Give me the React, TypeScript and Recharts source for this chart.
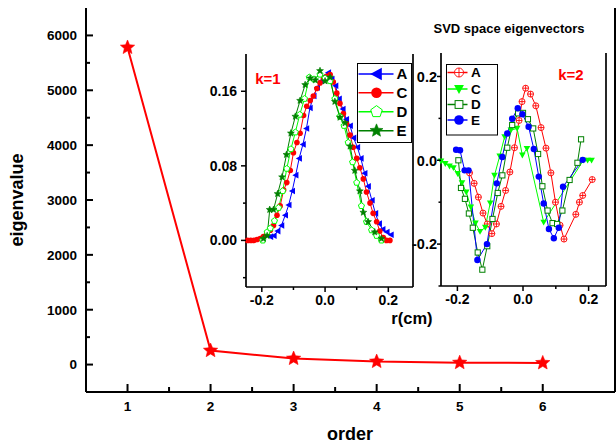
import React from 'react';
import { LineChart, Line, XAxis, YAxis } from 'recharts';

const FONT = '"Liberation Sans", Arial, sans-serif';

// main chart: eigenvalue vs order
const orders = [1, 2, 3, 4, 5, 6];
const eigenvalues = [5780, 255, 110, 55, 35, 30];
const mainXTicks = [1, 1.5, 2, 2.5, 3, 3.5, 4, 4.5, 5, 5.5, 6];
const mainXMajors = [1, 2, 3, 4, 5, 6];
const mainYTicks = [0, 500, 1000, 1500, 2000, 2500, 3000, 3500, 4000, 4500, 5000, 5500, 6000];
const mainYMajors = [0, 1000, 2000, 3000, 4000, 5000, 6000];
const mainRightTicks = [1, 2, 3, 4, 5, 6, 7, 8, 9];

// k=1 eigenvectors, [r(cm), value]
const k1A: [number, number][] = [
  [-0.173, 0.004], [-0.162, 0.005], [-0.15, 0.01], [-0.138, 0.016], [-0.126, 0.027], [-0.115, 0.038],
  [-0.104, 0.053], [-0.093, 0.07], [-0.082, 0.088], [-0.07, 0.103], [-0.059, 0.12], [-0.048, 0.142],
  [-0.036, 0.155], [-0.025, 0.164], [-0.013, 0.171], [-0.002, 0.176], [0.01, 0.18], [0.021, 0.173],
  [0.033, 0.166], [0.044, 0.152], [0.056, 0.141], [0.067, 0.13], [0.079, 0.123], [0.09, 0.11],
  [0.102, 0.1], [0.113, 0.088], [0.125, 0.072], [0.136, 0.058], [0.148, 0.043], [0.159, 0.029],
  [0.171, 0.018], [0.182, 0.012], [0.195, 0.009], [0.208, 0.006],
];
const k1C: [number, number][] = [
  [-0.245, 0], [-0.235, 0], [-0.225, 0], [-0.215, 0.001], [-0.205, 0.002], [-0.195, 0.004],
  [-0.184, 0.007], [-0.173, 0.011], [-0.163, 0.016], [-0.152, 0.027], [-0.142, 0.037], [-0.131, 0.054],
  [-0.121, 0.062], [-0.11, 0.075], [-0.1, 0.094], [-0.089, 0.105], [-0.079, 0.115], [-0.068, 0.134],
  [-0.058, 0.144], [-0.047, 0.15], [-0.037, 0.155], [-0.026, 0.163], [-0.016, 0.169], [-0.005, 0.174],
  [0.005, 0.176], [0.016, 0.178], [0.026, 0.17], [0.037, 0.158], [0.047, 0.147], [0.058, 0.136],
  [0.068, 0.125], [0.079, 0.113], [0.089, 0.1], [0.1, 0.088], [0.11, 0.078], [0.121, 0.066],
  [0.131, 0.052], [0.142, 0.04], [0.152, 0.029], [0.163, 0.02], [0.173, 0.01], [0.184, 0.003],
  [0.194, 0], [0.205, 0],
];
const k1D: [number, number][] = [
  [-0.197, 0], [-0.183, 0.009], [-0.173, 0.013], [-0.16, 0.021], [-0.147, 0.035], [-0.134, 0.053],
  [-0.121, 0.077], [-0.108, 0.098], [-0.094, 0.116], [-0.08, 0.135], [-0.065, 0.152], [-0.05, 0.175],
  [-0.035, 0.173], [-0.016, 0.178], [0, 0.174], [0.016, 0.171], [0.031, 0.152], [0.047, 0.133],
  [0.06, 0.123], [0.073, 0.105], [0.087, 0.084], [0.1, 0.062], [0.115, 0.037], [0.131, 0.02],
  [0.147, 0.011], [0.163, 0.005], [0.178, 0],
];
const k1E: [number, number][] = [
  [-0.195, 0.002], [-0.183, 0.005], [-0.175, 0.033], [-0.163, 0.033], [-0.15, 0.05], [-0.136, 0.068],
  [-0.122, 0.092], [-0.108, 0.115], [-0.094, 0.133], [-0.079, 0.15], [-0.063, 0.167], [-0.047, 0.174],
  [-0.031, 0.172], [-0.016, 0.182], [0, 0.171], [0.016, 0.175], [0.031, 0.149], [0.047, 0.132],
  [0.063, 0.126], [0.079, 0.101], [0.094, 0.075], [0.11, 0.053], [0.121, 0.03], [0.136, 0.02],
  [0.157, 0.009], [0.178, 0.002],
];

// k=2 eigenvectors
const k2A: [number, number][] = [
  [-0.163, -0.03], [-0.149, -0.055], [-0.136, -0.088], [-0.122, -0.126], [-0.109, -0.152], [-0.095, -0.175],
  [-0.081, -0.152], [-0.067, -0.11], [-0.053, -0.072], [-0.04, -0.028], [-0.026, 0.03], [-0.012, 0.095],
  [-0.003, 0.14], [0.008, 0.172], [0.023, 0.158], [0.039, 0.13], [0.055, 0.078], [0.07, 0.029],
  [0.085, -0.03], [0.099, -0.1], [0.113, -0.155], [0.125, -0.188], [0.161, -0.129], [0.172, -0.1],
  [0.182, -0.084], [0.211, -0.046],
];
const k2C: [number, number][] = [
  [-0.25, -0.002], [-0.237, -0.008], [-0.224, -0.014], [-0.212, -0.018], [-0.199, -0.032], [-0.186, -0.054],
  [-0.173, -0.076], [-0.159, -0.112], [-0.145, -0.15], [-0.131, -0.17], [-0.115, -0.16], [-0.1, -0.102],
  [-0.087, -0.036], [-0.071, 0.01], [-0.056, 0.056], [-0.037, 0.072], [-0.018, 0.076], [-0.002, 0.012],
  [0.012, 0.028], [0.063, -0.148], [0.184, 0], [0.197, 0], [0.209, 0],
];
const k2D: [number, number][] = [
  [-0.197, 0], [-0.189, -0.066], [-0.177, -0.092], [-0.165, -0.127], [-0.153, -0.161], [-0.138, -0.22],
  [-0.124, -0.261], [-0.109, -0.205], [-0.093, -0.14], [-0.077, -0.078], [-0.063, -0.036], [-0.048, 0.03],
  [-0.033, 0.084], [-0.015, 0.112], [0, 0.113], [0.015, 0.098], [0.031, 0.076], [0.046, 0.015],
  [0.059, -0.062], [0.075, -0.12], [0.09, -0.15], [0.104, -0.152], [0.12, -0.12], [0.142, -0.047],
  [0.166, -0.006], [0.177, 0.05],
];
const k2E: [number, number][] = [
  [-0.204, 0.025], [-0.192, 0.024], [-0.178, -0.024], [-0.166, -0.024], [-0.139, -0.238], [-0.11, -0.2],
  [-0.08, -0.055], [-0.063, 0.008], [-0.048, 0.064], [-0.033, 0.099], [-0.016, 0.124], [-0.002, 0.11],
  [0.017, 0.08], [0.033, 0.027], [0.048, -0.039], [0.063, -0.103], [0.079, -0.164], [0.094, -0.186],
  [0.109, -0.161], [0.122, -0.063], [0.182, 0.001],
];

const mainRows = orders.map((o, i) => ({ order: o, value: eigenvalues[i] }));
const toRows = (pts: [number, number][]) => pts.map(([x, y]) => ({ x, y }));

const starPts = (cx: number, cy: number, R: number, r: number) =>
  Array.from({ length: 10 }, (_, i) => {
    const a = -Math.PI / 2 + (i * Math.PI) / 5;
    const d = i % 2 ? r : R;
    return `${cx + d * Math.cos(a)},${cy + d * Math.sin(a)}`;
  }).join(' ');

const Marker = ({ kind, cx, cy, s, color }: any) => {
  if (cx == null || cy == null) return null;
  switch (kind) {
    case 'star':
      return <polygon points={starPts(cx, cy, s, s * 0.45)} fill={color} stroke={color} strokeWidth={0.6} />;
    case 'tri-left':
      return <polygon points={`${cx - s},${cy} ${cx + s * 0.85},${cy - s} ${cx + s * 0.85},${cy + s}`} fill={color} />;
    case 'tri-down':
      return <polygon points={`${cx - s},${cy - s * 0.8} ${cx + s},${cy - s * 0.8} ${cx},${cy + s}`} fill={color} />;
    case 'dot':
      return <circle cx={cx} cy={cy} r={s} fill={color} />;
    case 'pent': {
      const pts = Array.from({ length: 5 }, (_, i) => {
        const a = -Math.PI / 2 + (i * 2 * Math.PI) / 5;
        return `${cx + s * Math.cos(a)},${cy + s * Math.sin(a)}`;
      }).join(' ');
      return <polygon points={pts} fill="#fff" stroke={color} strokeWidth={1} />;
    }
    case 'square':
      return <rect x={cx - s} y={cy - s} width={2 * s} height={2 * s} fill="#fff" stroke={color} strokeWidth={1} />;
    case 'oplus':
      return (
        <g stroke={color} strokeWidth={0.9} fill="#fff">
          <circle cx={cx} cy={cy} r={s} />
          <line x1={cx - s} y1={cy} x2={cx + s} y2={cy} />
          <line x1={cx} y1={cy - s} x2={cx} y2={cy + s} />
        </g>
      );
    default:
      return null;
  }
};

type TickOpts = {
  side: 'left' | 'right' | 'bottom' | 'top';
  inward?: boolean;
  majors?: number[];
  major?: number;
  minor?: number;
  fmt?: (v: number) => string;
  fontSize?: number;
  gap?: number;
  width?: number;
};

// draws tick marks (major/minor) plus labels; axis tickSize/tickMargin are 0 so x,y sit on the axis line
const makeTick = (o: TickOpts) => (p: any) => {
  const v = p.payload.value;
  const isMajor = !o.majors || o.majors.some((m) => Math.abs(m - v) < 1e-9);
  const len = isMajor ? o.major ?? 6 : o.minor ?? 3;
  const { x, y } = p;
  let x2 = x;
  let y2 = y;
  if (o.side === 'left') x2 = x + (o.inward ? len : -len);
  if (o.side === 'right') x2 = x + (o.inward ? -len : len);
  if (o.side === 'bottom') y2 = y + (o.inward ? -len : len);
  if (o.side === 'top') y2 = y + (o.inward ? len : -len);
  const fs = o.fontSize ?? 13;
  const gap = o.gap ?? 6;
  const label = isMajor && o.fmt ? o.fmt(v) : null;
  return (
    <g key={`t-${o.side}-${v}`}>
      <line x1={x} y1={y} x2={x2} y2={y2} stroke="#000" strokeWidth={o.width ?? 1.5} />
      {label != null && o.side === 'left' && (
        <text x={x - gap} y={y + fs * 0.36} textAnchor="end" fontSize={fs} fontWeight="bold" fill="#000" fontFamily={FONT}>
          {label}
        </text>
      )}
      {label != null && o.side === 'bottom' && (
        <text x={x} y={y + gap} textAnchor="middle" fontSize={fs} fontWeight="bold" fill="#000" fontFamily={FONT}>
          {label}
        </text>
      )}
    </g>
  );
};

const range = (a: number, b: number, step: number) => {
  const out: number[] = [];
  for (let i = 0; a + i * step <= b + 1e-9; i++) out.push(Number((a + i * step).toFixed(4)));
  return out;
};

const k1Series = [
  { name: 'A', pts: k1A, color: '#0000ff', kind: 'tri-left', s: 3.3 },
  { name: 'C', pts: k1C, color: '#ff0000', kind: 'dot', s: 2.8 },
  { name: 'D', pts: k1D, color: '#00ff00', kind: 'pent', s: 3.2 },
  { name: 'E', pts: k1E, color: '#008000', kind: 'star', s: 3.6 },
];
const k2Series = [
  { name: 'A', pts: k2A, color: '#ff0000', kind: 'oplus', s: 3 },
  { name: 'C', pts: k2C, color: '#00ff00', kind: 'tri-down', s: 3.3 },
  { name: 'D', pts: k2D, color: '#008000', kind: 'square', s: 2.6 },
  { name: 'E', pts: k2E, color: '#0000ff', kind: 'dot', s: 3.2 },
];

const axisLine = (w: number) => ({ stroke: '#000', strokeWidth: w });

const renderSeries = (series: any[]) =>
  series.map((sr) => (
    <Line
      key={sr.name}
      data={toRows(sr.pts)}
      dataKey="y"
      type="linear"
      stroke={sr.color}
      strokeWidth={1}
      dot={(p: any) => <Marker key={`${sr.name}-${p.index}`} kind={sr.kind} cx={p.cx} cy={p.cy} s={sr.s} color={sr.color} />}
      activeDot={false}
      isAnimationActive={false}
    />
  ));

const Legend = ({ x, y, w, h, rows, series, lineW, markX, textX, fs, scale }: any) => (
  <g>
    <rect x={x} y={y} width={w} height={h} fill="#fff" stroke="#000" strokeWidth={1} />
    {series.map((sr: any, i: number) => (
      <g key={sr.name}>
        <line x1={x + 1} y1={rows[i]} x2={x + 1 + lineW} y2={rows[i]} stroke={sr.color} strokeWidth={1.5} />
        <Marker kind={sr.kind} cx={markX} cy={rows[i]} s={sr.s * scale} color={sr.color} />
        <text x={textX} y={rows[i] + fs * 0.36} fontSize={fs} fontWeight="bold" fontFamily={FONT} fill="#000">
          {sr.name}
        </text>
      </g>
    ))}
  </g>
);

export default function App() {
  return (
    <div style={{ position: 'relative', width: 616, height: 445, background: '#fff', fontFamily: FONT, overflow: 'hidden' }}>
      <style>{'body{margin:0}'}</style>

      <div style={{ position: 'absolute', left: 0, top: 0 }}>
        <LineChart width={616} height={445} data={mainRows} margin={{ top: 8, right: 0, bottom: 0, left: 0 }}>
          <XAxis
            dataKey="order"
            type="number"
            domain={[0.5, 6.87]}
            ticks={mainXTicks}
            interval={0}
            height={53}
            tickSize={0}
            tickMargin={0}
            axisLine={axisLine(2)}
            tickLine={false}
            tick={makeTick({ side: 'bottom', inward: true, majors: mainXMajors, major: 8, minor: 5, fmt: (v) => String(v), fontSize: 13.5, gap: 19, width: 2 })}
          />
          <XAxis xAxisId="top" orientation="top" type="number" domain={[0.5, 6.87]} height={0} tick={false} tickLine={false} axisLine={axisLine(2)} />
          <YAxis
            type="number"
            domain={[-500, 6500]}
            ticks={mainYTicks}
            interval={0}
            width={86}
            tickSize={0}
            tickMargin={0}
            axisLine={axisLine(2)}
            tickLine={false}
            tick={makeTick({ side: 'left', inward: true, majors: mainYMajors, major: 7, minor: 4, fmt: (v) => String(v), fontSize: 13.5, gap: 9, width: 2 })}
          />
          <YAxis
            yAxisId="r"
            orientation="right"
            type="number"
            domain={[0, 10]}
            ticks={mainRightTicks}
            interval={0}
            width={1}
            tickSize={0}
            tickMargin={0}
            axisLine={axisLine(2)}
            tickLine={false}
            tick={makeTick({ side: 'right', inward: true, majors: [2, 4, 6, 8], major: 7, minor: 4, width: 2 })}
          />
          <Line
            dataKey="value"
            type="linear"
            stroke="#ff0000"
            strokeWidth={2}
            dot={(p: any) => <Marker key={`m-${p.index}`} kind="star" cx={p.cx} cy={p.cy} s={7.5} color="#ff0000" />}
            activeDot={false}
            isAnimationActive={false}
          />
        </LineChart>
      </div>

      {/* inset k=1 */}
      <div style={{ position: 'absolute', left: 200, top: 46 }}>
        <LineChart width={219} height={271} margin={{ top: 8, right: 0, bottom: 0, left: 0 }}>
          <XAxis
            dataKey="x"
            type="number"
            domain={[-0.25, 0.278]}
            ticks={[-0.2, -0.1, 0, 0.1, 0.2]}
            interval={0}
            height={30}
            tickSize={0}
            tickMargin={0}
            axisLine={axisLine(1.7)}
            tickLine={false}
            tick={makeTick({ side: 'bottom', majors: [-0.2, 0, 0.2], major: 5, minor: 3, fmt: (v) => v.toFixed(1), fontSize: 14, gap: 18 })}
          />
          <XAxis
            xAxisId="top"
            orientation="top"
            type="number"
            domain={[-0.25, 0.278]}
            ticks={range(-0.2, 0.25, 0.05)}
            interval={0}
            height={0}
            tickSize={0}
            tickMargin={0}
            axisLine={axisLine(1.7)}
            tickLine={false}
            tick={makeTick({ side: 'top', inward: true, major: 3 })}
          />
          <YAxis
            type="number"
            domain={[-0.05, 0.2]}
            ticks={[-0.04, 0, 0.04, 0.08, 0.12, 0.16]}
            interval={0}
            width={46}
            tickSize={0}
            tickMargin={0}
            axisLine={axisLine(1.7)}
            tickLine={false}
            tick={makeTick({ side: 'left', majors: [0, 0.08, 0.16], major: 5, minor: 3, fmt: (v) => v.toFixed(2), fontSize: 14, gap: 9 })}
          />
          <YAxis
            yAxisId="r"
            orientation="right"
            type="number"
            domain={[-0.05, 0.2]}
            ticks={range(-0.025, 0.175, 0.025)}
            interval={0}
            width={6}
            tickSize={0}
            tickMargin={0}
            axisLine={axisLine(1.7)}
            tickLine={false}
            tick={makeTick({ side: 'right', major: 4 })}
          />
          {renderSeries(k1Series)}
        </LineChart>
      </div>

      {/* inset k=2 */}
      <div style={{ position: 'absolute', left: 405, top: 45 }}>
        <LineChart width={203} height={271} margin={{ top: 8, right: 0, bottom: 0, left: 0 }}>
          <XAxis
            dataKey="x"
            type="number"
            domain={[-0.25, 0.253]}
            ticks={[-0.2, -0.1, 0, 0.1, 0.2]}
            interval={0}
            height={30}
            tickSize={0}
            tickMargin={0}
            axisLine={axisLine(1.7)}
            tickLine={false}
            tick={makeTick({ side: 'bottom', majors: [-0.2, 0, 0.2], major: 5, minor: 3, fmt: (v) => v.toFixed(1), fontSize: 14, gap: 18 })}
          />
          <XAxis xAxisId="top" orientation="top" type="number" domain={[-0.25, 0.253]} height={0} tick={false} tickLine={false} axisLine={axisLine(1.7)} />
          <YAxis
            type="number"
            domain={[-0.3, 0.256]}
            ticks={[-0.3, -0.2, -0.1, 0, 0.1, 0.2]}
            interval={0}
            width={36}
            tickSize={0}
            tickMargin={0}
            axisLine={axisLine(1.7)}
            tickLine={false}
            tick={makeTick({ side: 'left', majors: [-0.2, 0, 0.2], major: 4, minor: 2.5, fmt: (v) => v.toFixed(1), fontSize: 14.5, gap: 4 })}
          />
          <YAxis
            yAxisId="r"
            orientation="right"
            type="number"
            domain={[-0.6, 6.8]}
            ticks={[0, 1, 2, 3, 4, 5, 6]}
            interval={0}
            width={2}
            tickSize={0}
            tickMargin={0}
            axisLine={axisLine(1.7)}
            tickLine={false}
            tick={makeTick({ side: 'right', inward: true, major: 4 })}
          />
          {renderSeries(k2Series)}
        </LineChart>
      </div>

      <svg width={616} height={445} style={{ position: 'absolute', left: 0, top: 0, pointerEvents: 'none' }}>
        <text x={509} y={33} textAnchor="middle" fontSize={13} fontWeight="bold" fontFamily={FONT} fill="#000">
          SVD space eigenvectors
        </text>
        <text x={268} y={83.5} textAnchor="middle" fontSize={15} fontWeight="bold" fontFamily={FONT} fill="#ff0000">
          k=1
        </text>
        <text x={571} y={79.5} textAnchor="middle" fontSize={15} fontWeight="bold" fontFamily={FONT} fill="#ff0000">
          k=2
        </text>
        <text x={412} y={323.5} textAnchor="middle" fontSize={16.5} fontWeight="bold" fontFamily={FONT} fill="#000">
          r(cm)
        </text>
        <text x={350} y={440} textAnchor="middle" fontSize={18} fontWeight="bold" fontFamily={FONT} fill="#000">
          order
        </text>
        <text
          x={0}
          y={0}
          transform="translate(23 200) rotate(-90)"
          textAnchor="middle"
          fontSize={18}
          fontWeight="bold"
          fontFamily={FONT}
          fill="#000"
        >
          eigenvalue
        </text>
        <Legend x={357.5} y={63.5} w={54} h={79} rows={[74, 92.7, 111.7, 130.7]} series={k1Series} lineW={35} markX={376.5} textX={396.5} fs={15} scale={1.9} />
        <Legend x={446.5} y={64.5} w={51} h={70.5} rows={[72.5, 89, 104.5, 120]} series={k2Series} lineW={20} markX={459} textX={471} fs={13.5} scale={1.5} />
      </svg>
    </div>
  );
}
